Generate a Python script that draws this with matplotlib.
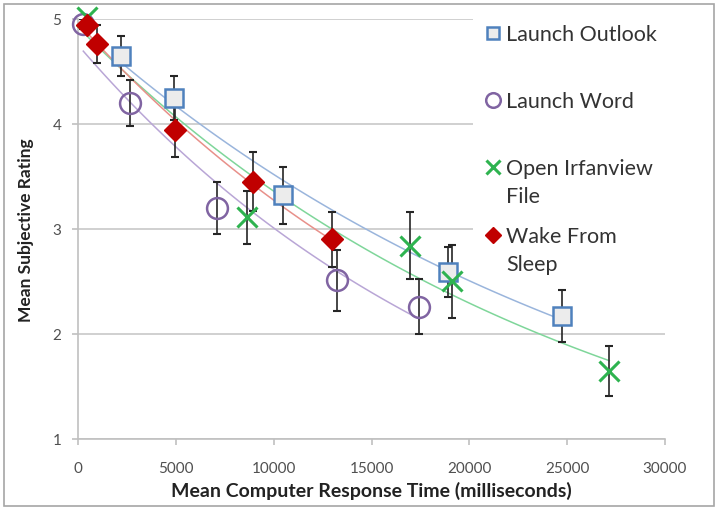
import numpy as np
import matplotlib
matplotlib.use("Agg")
import matplotlib.pyplot as plt
from matplotlib.patches import Rectangle

plt.rcParams['font.family'] = ['Lato', 'DejaVu Sans']

# data (x in ms, y mean rating, symmetric error)
outlook_x = [2200, 4900, 10500, 18900, 24750]
outlook_y = [4.65, 4.25, 3.32, 2.59, 2.17]
outlook_err = [0.19, 0.21, 0.27, 0.24, 0.25]

word_x = [270, 2650, 7100, 13250, 17450]
word_y = [4.95, 4.20, 3.20, 2.51, 2.26]
word_err = [0.05, 0.22, 0.25, 0.29, 0.26]

irfan_x = [450, 8650, 16950, 19100, 27150]
irfan_y = [5.02, 3.11, 2.84, 2.50, 1.65]
irfan_err = [0.0, 0.25, 0.32, 0.35, 0.24]

wake_x = [470, 970, 4950, 8950, 13000]
wake_y = [4.94, 4.76, 3.94, 3.45, 2.90]
wake_err = [0.05, 0.18, 0.25, 0.28, 0.26]

labels = ["Launch Outlook", "Launch Word", "Open Irfanview\nFile", "Wake From\nSleep"]

W, H = 717, 510
fig = plt.figure(figsize=(W / 100, H / 100), dpi=100)
fig.patches.append(Rectangle((0.006, 0.006), 0.99, 0.985, transform=fig.transFigure,
                             fill=False, edgecolor="#a6a6a6", linewidth=1.2))
ax = fig.add_axes([0.1088, 0.1373, 0.8187, 0.8235])


def trend(x, y):
    # exponential trendline like excel
    b, a = np.polyfit(x, np.log(y), 1)
    xs = np.linspace(min(x), max(x), 100)
    return xs, np.exp(a + b * xs)


series = [
    (outlook_x, outlook_y, outlook_err, dict(marker="s", ms=13, mfc="#ececec", mec="#4f81bd", mew=1.8), "#9ab5dc"),
    (word_x, word_y, word_err, dict(marker="o", ms=15, mfc="none", mec="#8064a2", mew=1.8), "#b9a6d6"),
    (irfan_x, irfan_y, irfan_err, dict(marker="x", ms=15, mec="#2eb34f", mew=2.2), "#7fd69a"),
    (wake_x, wake_y, wake_err, dict(marker="D", ms=11, mfc="#c00000", mec="#c00000", mew=1), "#e8908a"),
]

for x, y, err, mk, lc in series:
    xs, ys = trend(x, y)
    ax.plot(xs, ys, color=lc, lw=1.1, zorder=2)
    ax.errorbar(x, y, yerr=err, fmt="none", ecolor="#262626", elinewidth=1.2,
                capsize=3, capthick=1.5, zorder=3)
    ax.plot(x, y, linestyle="none", zorder=4, clip_on=False, **mk)

ax.set_xlim(0, 30000)
ax.set_ylim(1, 5)
ax.set_xticks(range(0, 30001, 5000))
ax.set_yticks([1, 2, 3, 4, 5])
ax.grid(axis="y", color="#c8c8c8", lw=1.2, zorder=0)
ax.set_axisbelow(True)
for s in ["top", "right"]:
    ax.spines[s].set_visible(False)
for s in ["left", "bottom"]:
    ax.spines[s].set_color("#c0c0c0")
    ax.spines[s].set_linewidth(1.2)
ax.tick_params(colors="#c0c0c0", labelcolor="#505050", labelsize=11, length=4, width=1.2)
ax.tick_params(axis="x", pad=12)
ax.tick_params(axis="y", pad=8)

ax.set_xlabel("Mean Computer Response Time (milliseconds)", fontsize=14,
              fontweight="bold", color="#222222", labelpad=4)
ax.set_ylabel("Mean Subjective Rating", fontsize=12.5, fontweight="bold",
              color="#222222", labelpad=13)

# legend area: white box that hides the gridlines on the right
ax.add_patch(Rectangle((473 / W, 1 - 262 / H), 240 / W, 255 / H,
                       transform=fig.transFigure, facecolor="white",
                       edgecolor="none", zorder=1, clip_on=False))

leg_y = [34, 101, 168, 236]
for (x, y, err, mk, lc), lab, py in zip(series, labels, leg_y):
    m = dict(mk)
    m["ms"] = m["ms"] * 0.7
    ax.plot([493 / W], [1 - py / H], transform=fig.transFigure, linestyle="none",
            clip_on=False, zorder=5, **m)
    ax.text(506 / W, 1 - (py - 9) / H, lab, transform=fig.transFigure,
            fontsize=15.5, color="#333333", va="top", ha="left",
            linespacing=1.5, zorder=5)

fig.savefig("out.png", dpi=100)
